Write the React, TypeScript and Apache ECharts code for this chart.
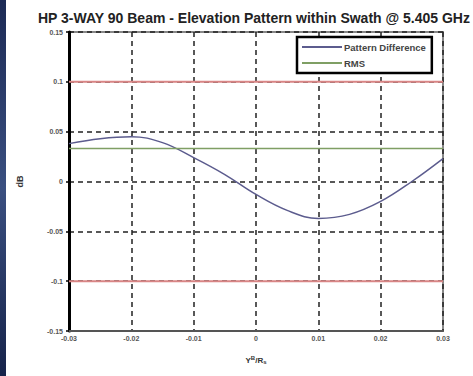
import React, { useEffect, useRef } from "react";
import * as echarts from "echarts";

const titleText = "HP 3-WAY 90 Beam - Elevation Pattern within Swath @ 5.405 GHz";
const xPositions = [-0.03, -0.025, -0.02, -0.015, -0.01, -0.005, 0, 0.005, 0.01, 0.015, 0.02, 0.025, 0.03];
const patternDifference = [0.038, 0.043, 0.045, 0.039, 0.024, 0.007, -0.013, -0.029, -0.037, -0.033, -0.02, 0.0, 0.023];
const rmsValue = 0.033;
const limitValues = [0.1, -0.1];
const xRange = [-0.03, 0.03];

export default function App() {
  const ref = useRef<HTMLDivElement>(null);
  useEffect(() => {
    if (!ref.current) return;
    const chart = echarts.init(ref.current, undefined, { renderer: "svg" });
    const fmt = (v: number) => String(Number(v.toFixed(3)));
    const labelStyle = { color: "#555", fontSize: 7, fontWeight: "bold" as const, fontFamily: "Liberation Sans, Arial, sans-serif" };
    chart.setOption({
      animation: false,
      backgroundColor: "#fff",
      title: {
        text: titleText,
        left: 33,
        top: 6,
        textStyle: { fontSize: 14, fontWeight: "bold", color: "#222", fontFamily: "Liberation Sans, Arial, sans-serif" },
      },
      graphic: [
        {
          type: "rect",
          shape: { x: 0, y: 0, width: 6, height: 376 },
          style: {
            fill: new echarts.graphic.LinearGradient(0, 0, 0, 1, [
              { offset: 0, color: "#1c2a55" },
              { offset: 0.5, color: "#3a4f80" },
              { offset: 1, color: "#16234a" },
            ]),
          },
        },
      ],
      grid: {
        left: 69,
        right: 30,
        top: 32,
        bottom: 45,
        show: true,
        borderColor: "#888",
        borderWidth: 2,
      },
      legend: {
        data: ["Pattern Difference", "RMS"],
        orient: "vertical",
        left: 297,
        top: 37,
        itemWidth: 40,
        itemHeight: 2,
        itemGap: 6,
        padding: [5, 6, 5, 5],
        backgroundColor: "#fff",
        borderColor: "#000",
        borderWidth: 2.5,
        borderRadius: 0,
        icon: "rect",
        textStyle: { fontSize: 9.5, fontWeight: "bold", color: "#444", fontFamily: "Liberation Sans, Arial, sans-serif", padding: [0, 0, 0, -3] },
      },
      xAxis: {
        type: "value",
        min: xRange[0],
        max: xRange[1],
        interval: 0.01,
        name: "{a|Y}{sup|B}{a|/R}{sub|s}",
        nameLocation: "middle",
        nameGap: 24,
        nameTextStyle: {
          rich: {
            a: { fontSize: 8, fontWeight: "bold", color: "#333" },
            sup: { fontSize: 6, fontWeight: "bold", color: "#333", verticalAlign: "top", padding: [0, 0, 4, 0] },
            sub: { fontSize: 6, fontWeight: "bold", color: "#333", verticalAlign: "bottom", padding: [4, 0, 0, 0] },
          },
        },
        axisLine: { show: true, onZero: false, lineStyle: { color: "#555", width: 2 } },
        axisTick: { show: false },
        axisLabel: { ...labelStyle, margin: 4, formatter: fmt },
        splitLine: { show: true, lineStyle: { color: "#222", width: 1.5, type: [5, 4] } },
      },
      yAxis: {
        type: "value",
        min: -0.15,
        max: 0.15,
        interval: 0.05,
        name: "dB",
        nameLocation: "middle",
        nameRotate: 90,
        nameGap: 45,
        nameTextStyle: { fontSize: 9, fontWeight: "bold", color: "#333" },
        axisLine: { show: true, onZero: false, lineStyle: { color: "#000", width: 3 } },
        axisTick: { show: true, length: 3, lineStyle: { color: "#000", width: 1.5 } },
        axisLabel: { ...labelStyle, margin: 6, formatter: fmt },
        splitLine: { show: true, lineStyle: { color: "#222", width: 1.5, type: [5, 4] } },
      },
      series: [
        {
          name: "Pattern Difference",
          type: "line",
          data: xPositions.map((x, i) => [x, patternDifference[i]]),
          smooth: 0.4,
          showSymbol: false,
          lineStyle: { color: "#5c5c8e", width: 1.5 },
          itemStyle: { color: "#5c5c8e" },
          z: 3,
        },
        {
          name: "RMS",
          type: "line",
          data: [[xRange[0], rmsValue], [xRange[1], rmsValue]],
          showSymbol: false,
          lineStyle: { color: "#7f9f64", width: 1.5 },
          itemStyle: { color: "#7f9f64" },
          z: 3,
        },
        ...limitValues.map((v, k) => ({
          name: "limit" + k,
          type: "line",
          data: [[xRange[0], v], [xRange[1], v]],
          showSymbol: false,
          lineStyle: { color: "#d98585", width: 2 },
          itemStyle: { color: "#d98585" },
          z: 3,
        })),
      ],
    });
    return () => chart.dispose();
  }, []);
  return <div ref={ref} style={{ position: "fixed", left: 0, top: 0, width: 473, height: 376 }} />;
}
